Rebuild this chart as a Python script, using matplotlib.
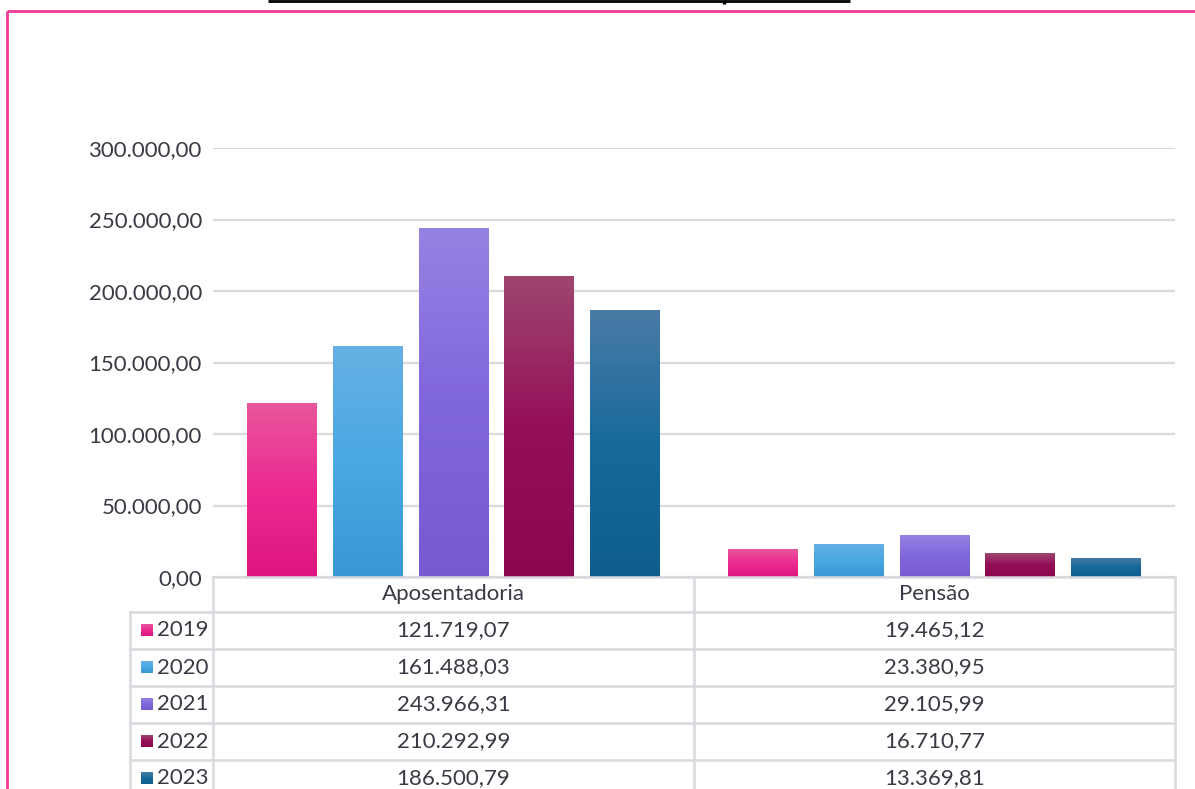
import matplotlib
matplotlib.use('Agg')

import numpy as np
import matplotlib.pyplot as plt
from matplotlib.colors import LinearSegmentedColormap
from matplotlib.ticker import FuncFormatter, MultipleLocator

plt.rcParams['font.family'] = ['Lato', 'DejaVu Sans']

categories = ["Aposentadoria", "Pensão"]
years = ["2019", "2020", "2021", "2022", "2023"]
values = {
    "2019": [121719.07, 19465.12],
    "2020": [161488.03, 23380.95],
    "2021": [243966.31, 29105.99],
    "2022": [210292.99, 16710.77],
    "2023": [186500.79, 13369.81],
}
# top, middle, bottom colour of each bar gradient
gradients = {
    "2019": ["#E8579B", "#EC2A92", "#DE1580"],
    "2020": ["#66B0E3", "#4AA8E4", "#3A96D4"],
    "2021": ["#9682E3", "#8066DC", "#765AD2"],
    "2022": ["#9E4670", "#940F58", "#8A064E"],
    "2023": ["#4A7BA6", "#176A9C", "#0F5D8F"],
}

TEXT = "#3A3A44"
GRID = "#D9D9DE"
W, H = 1195, 789


def br(v):
    s = f"{v:,.2f}"
    return s.replace(",", "X").replace(".", ",").replace("X", ".")


def fx(px):
    return px / W


def fy(py):
    return 1 - py / H


def grad_cmap(yr):
    c = gradients[yr]
    return LinearSegmentedColormap.from_list(yr, [(0, c[2]), (0.5, c[1]), (1, c[0])])


fig = plt.figure(figsize=(W / 100, H / 100), dpi=100)
fig.patch.set_facecolor("white")

# ---------- BARS ----------
ax = fig.add_axes([fx(213), fy(577), fx(1175) - fx(213), fy(148) - fy(577)])
x = np.arange(len(categories))
bw = 0.1455
step = 0.178
grad = np.linspace(0, 1, 256).reshape(-1, 1)

for i, yr in enumerate(years):
    cmap = grad_cmap(yr)
    bars = ax.bar(x + (i - 2) * step, values[yr], bw, color="none", edgecolor="none", zorder=3)
    for b in bars:
        x0, y0 = b.get_x(), b.get_y()
        im = ax.imshow(grad, cmap=cmap, origin="lower", aspect="auto",
                       extent=[x0, x0 + b.get_width(), y0, y0 + b.get_height()], zorder=3)
        im.set_clip_path(b)

ax.set_xlim(-0.5, 1.5)
ax.set_ylim(0, 300000)
ax.yaxis.set_major_locator(MultipleLocator(50000))
ax.yaxis.set_major_formatter(FuncFormatter(lambda v, p: br(v)))
ax.grid(axis="y", color=GRID, linewidth=1.6, zorder=0)
ax.set_axisbelow(True)
for s in ax.spines.values():
    s.set_visible(False)
ax.tick_params(axis="y", length=0, pad=8, labelsize=16, labelcolor=TEXT)
ax.set_xticks([])

# ---------- DATA TABLE ----------
ov = fig.add_axes([0, 0, 1, 1])
ov.axis("off")

col_edges = [213, 694, 1175]
row_top = 577
head_h = 35
row_h = 37
lw = 1.8

ov.plot([213, 1175], [row_top, row_top], color=GRID, lw=lw)
for cx in col_edges:
    ov.plot([cx, cx], [row_top, H], color=GRID, lw=lw)
ov.plot([130, 130], [row_top + head_h, H], color=GRID, lw=lw)
for j, cat in enumerate(categories):
    ov.text((col_edges[j] + col_edges[j + 1]) / 2, row_top + head_h / 2, cat,
            ha="center", va="center", fontsize=16, color=TEXT)

for i, yr in enumerate(years):
    top = row_top + head_h + i * row_h
    ov.plot([130, 1175], [top, top], color=GRID, lw=lw)
    cy = top + row_h / 2
    ov.imshow(grad, cmap=grad_cmap(yr), origin="lower", aspect="auto",
              extent=[141, 153, cy + 6, cy - 6], zorder=3)
    ov.text(157, cy, yr, ha="left", va="center", fontsize=16, color=TEXT)
    for j in range(len(categories)):
        ov.text((col_edges[j] + col_edges[j + 1]) / 2, cy, br(values[yr][j]),
                ha="center", va="center", fontsize=16, color=TEXT)

# ---------- FRAME AND CUT TITLE ----------
ov.plot([7, W + 5], [11, 11], color="#EE3A98", lw=2, solid_capstyle="butt")
ov.plot([7, 7], [11, H + 5], color="#EE3A98", lw=2, solid_capstyle="butt")
ov.plot([268, 850], [0.8, 0.8], color="black", lw=2, solid_capstyle="butt")
ov.plot([724, 724], [0, 3.5], color="black", lw=2.5, solid_capstyle="butt")

ov.set_xlim(0, W)
ov.set_ylim(H, 0)

fig.savefig("out.png", dpi=100)
